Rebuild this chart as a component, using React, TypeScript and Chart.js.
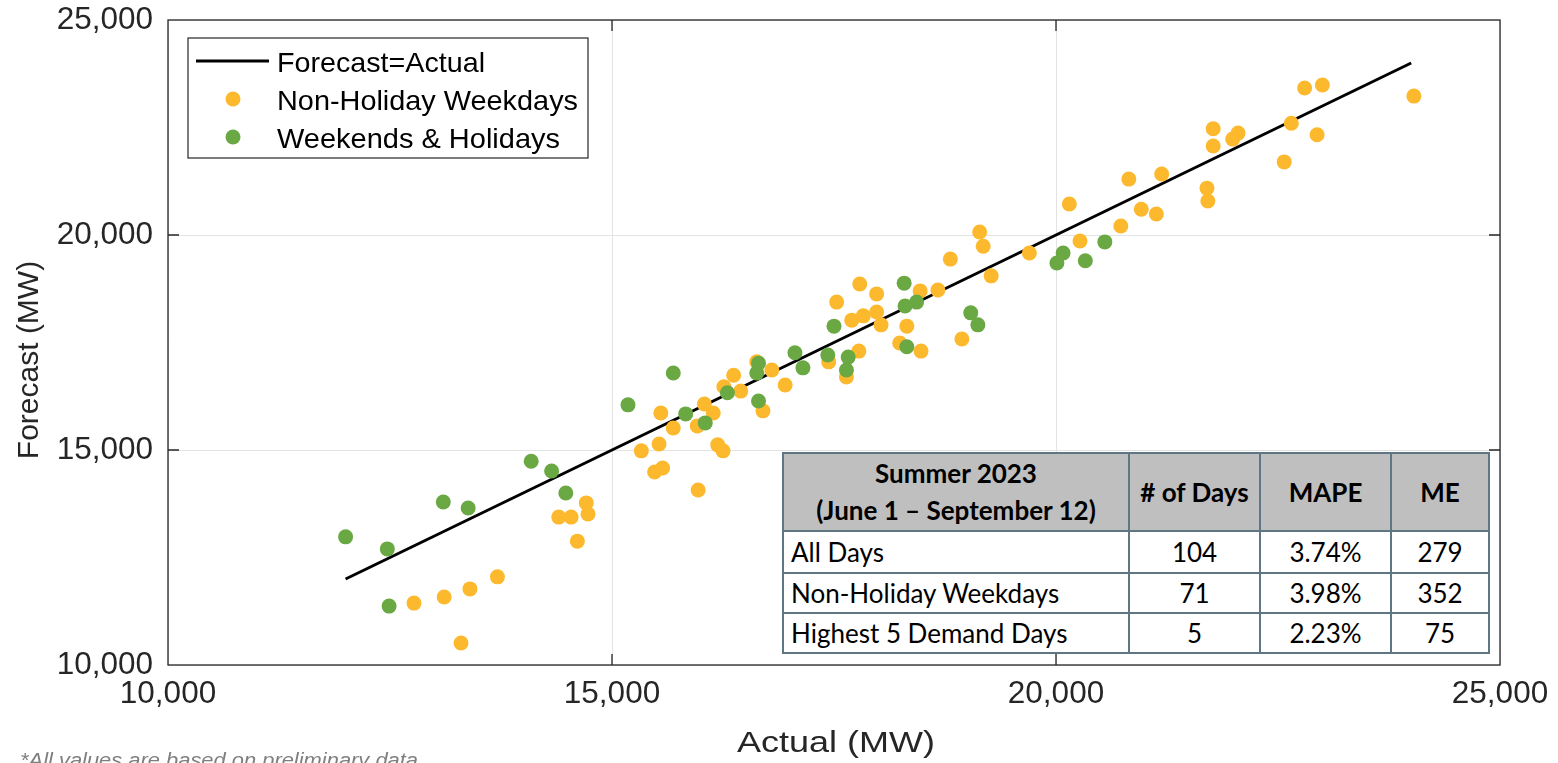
import React, { useEffect, useRef } from 'react';
import { Chart, registerables } from 'chart.js';

Chart.register(...registerables);

// ---------- data ----------
const AXIS_MIN = 10000;
const AXIS_MAX = 25000;
const AXIS_STEP = 5000;
const tickValues = [10000, 15000, 20000, 25000];

const lineActual = [12000, 24000];
const lineForecast = [12000, 24000];

const weekdayActual = [
  12770, 13110, 13400, 13710, 13300, 14710, 14400, 14540, 14730, 14610,
  15330, 15530, 15480, 15570, 15550, 15690, 15970, 16040, 16140, 15960,
  16190, 16250, 16260, 16370, 16450, 16630, 16800, 16700, 16950, 17440,
  17640, 17530, 17790, 17980, 17700, 17830, 17980, 18030, 18240, 17780,
  18320, 18480, 18470, 18670, 18810, 18940, 19140, 19180, 19270, 19700,
  20150, 20270, 20730, 20960, 21130, 20820, 21190, 21700, 21710, 21770,
  21770, 21990, 22050, 22570, 22650, 22800, 23000, 22940, 24030,
];
const weekdayForecast = [
  11440, 11580, 11770, 12050, 10510, 13770, 13440, 13440, 13510, 12880,
  14980, 15140, 14490, 14580, 15860, 15510, 14070, 16070, 15860, 15560,
  15120, 14980, 16470, 16740, 16370, 17050, 16860, 15910, 16510, 17050,
  16700, 18440, 18860, 18630, 18020, 18120, 18210, 17910, 17490, 17300,
  17880, 17300, 18700, 18720, 19440, 17580, 20070, 19740, 19050, 19580,
  20720, 19860, 20210, 20600, 20490, 21300, 21420, 21090, 20790, 22470,
  22070, 22230, 22370, 21700, 22600, 23420, 23490, 22330, 23230,
];

const weekendActual = [
  12000, 12470, 12490, 13100, 13380, 14090, 14320, 14480, 15180, 15690,
  15830, 16050, 16300, 16650, 16630, 16650, 17060, 17150, 17430, 17660,
  17640, 17500, 18290, 18300, 18430, 18320, 19040, 19120, 20010, 20080,
  20330, 20550,
];
const weekendForecast = [
  12980, 12700, 11370, 13790, 13650, 14740, 14510, 14000, 16050, 16790,
  15840, 15630, 16330, 17020, 16790, 16140, 17260, 16910, 17210, 17160,
  16860, 17880, 18880, 18350, 18440, 17400, 18190, 17910, 19350, 19580,
  19400, 19840,
];

const legendLabels = ['Forecast=Actual', 'Non-Holiday Weekdays', 'Weekends & Holidays'];
const xTitle = 'Actual (MW)';
const yTitle = 'Forecast (MW)';
const footnote = '*All values are based on preliminary data';

const tableTitle = ['Summer 2023', '(June 1 \u2013 September 12)'];
const tableColumns = ['# of Days', 'MAPE', 'ME'];
const tableRowLabels = ['All Days', 'Non-Holiday Weekdays', 'Highest 5 Demand Days'];
const tableDays = ['104', '71', '5'];
const tableMape = ['3.74%', '3.98%', '2.23%'];
const tableMe = ['279', '352', '75'];

// ---------- styles ----------
const YELLOW = 'rgb(253,185,46)';
const GREEN = 'rgb(106,168,68)';
const TEXT = '#262626';
const SANS = '"Liberation Sans", Arial, sans-serif';

const fmt = (v: number) => Number(v).toLocaleString('en-US');

function stretchedText(
  ctx: CanvasRenderingContext2D,
  text: string,
  x: number,
  y: number,
  font: string,
  targetWidth: number,
  align: CanvasTextAlign,
) {
  ctx.font = font;
  const w = ctx.measureText(text).width;
  const sx = targetWidth > 0 ? targetWidth / w : 1;
  ctx.save();
  ctx.translate(x, y);
  ctx.scale(sx, 1);
  ctx.textAlign = align;
  ctx.textBaseline = 'alphabetic';
  ctx.fillText(text, 0, 0);
  ctx.restore();
}

const overlayPlugin = {
  id: 'overlay',
  afterDraw(chart: any) {
    const ctx: CanvasRenderingContext2D = chart.ctx;
    const { left, right, top, bottom } = chart.chartArea;
    const xs = chart.scales.x;
    const ys = chart.scales.y;
    ctx.save();

    // frame
    ctx.strokeStyle = TEXT;
    ctx.lineWidth = 1.3;
    ctx.strokeRect(left, top, right - left, bottom - top);

    // inward ticks on all four sides
    const tl = 11;
    ctx.beginPath();
    tickValues.forEach((v) => {
      if (v === AXIS_MIN || v === AXIS_MAX) return;
      const px = xs.getPixelForValue(v);
      ctx.moveTo(px, bottom);
      ctx.lineTo(px, bottom - tl);
      ctx.moveTo(px, top);
      ctx.lineTo(px, top + tl);
      const py = ys.getPixelForValue(v);
      ctx.moveTo(left, py);
      ctx.lineTo(left + tl, py);
      ctx.moveTo(right, py);
      ctx.lineTo(right - tl, py);
    });
    ctx.stroke();

    // axis titles
    ctx.fillStyle = TEXT;
    stretchedText(ctx, xTitle, (left + right) / 2 + 2, 752, `30px ${SANS}`, 198, 'center');
    ctx.save();
    ctx.translate(38, 360);
    ctx.rotate(-Math.PI / 2);
    ctx.font = `30px ${SANS}`;
    ctx.textAlign = 'center';
    ctx.textBaseline = 'alphabetic';
    ctx.fillText(yTitle, 0, 0);
    ctx.restore();

    // legend
    const lx = 188, ly = 38, lw = 400, lh = 120;
    ctx.fillStyle = '#ffffff';
    ctx.fillRect(lx, ly, lw, lh);
    ctx.strokeStyle = TEXT;
    ctx.lineWidth = 1.2;
    ctx.strokeRect(lx, ly, lw, lh);
    ctx.strokeStyle = '#000000';
    ctx.lineWidth = 3;
    ctx.beginPath();
    ctx.moveTo(196, 61);
    ctx.lineTo(269, 61);
    ctx.stroke();
    ctx.fillStyle = YELLOW;
    ctx.beginPath();
    ctx.arc(233, 99, 7.5, 0, Math.PI * 2);
    ctx.fill();
    ctx.fillStyle = GREEN;
    ctx.beginPath();
    ctx.arc(233, 137, 7.5, 0, Math.PI * 2);
    ctx.fill();
    ctx.fillStyle = '#000000';
    const widths = [208, 301, 283];
    const baselines = [72, 110, 148];
    legendLabels.forEach((t, i) => {
      stretchedText(ctx, t, 277, baselines[i], `28px ${SANS}`, widths[i], 'left');
    });

    // footnote
    ctx.fillStyle = '#7f7f7f';
    stretchedText(ctx, footnote, 20, 767, `italic 20px ${SANS}`, 398, 'left');

    ctx.restore();
  },
};

function StatsTable() {
  const border = '2px solid #5f7784';
  const cell: React.CSSProperties = {
    border,
    padding: 0,
    textAlign: 'center',
    verticalAlign: 'middle',
    overflow: 'hidden',
    whiteSpace: 'nowrap',
  };
  const head: React.CSSProperties = { ...cell, fontWeight: 700, background: '#bfbfbf' };
  return (
    <table
      style={{
        position: 'absolute',
        left: 782,
        top: 452,
        width: 706,
        height: 200,
        borderCollapse: 'collapse',
        tableLayout: 'fixed',
        fontFamily: 'Lato, "Open Sans", sans-serif',
        fontSize: 26,
        color: '#000',
        background: '#fff',
      }}
    >
      <colgroup>
        <col style={{ width: 346 }} />
        <col style={{ width: 131 }} />
        <col style={{ width: 131 }} />
        <col style={{ width: 98 }} />
      </colgroup>
      <tbody>
        <tr style={{ height: 78 }}>
          <td style={{ ...head, lineHeight: '37px' }}>
            {tableTitle[0]}
            <br />
            {tableTitle[1]}
          </td>
          {tableColumns.map((c) => (
            <td key={c} style={head}>
              {c}
            </td>
          ))}
        </tr>
        {tableRowLabels.map((r, i) => (
          <tr key={r} style={{ height: i === 0 ? 42 : 40 }}>
            <td style={{ ...cell, textAlign: 'left', paddingLeft: 7 }}>{r}</td>
            <td style={cell}>{tableDays[i]}</td>
            <td style={cell}>{tableMape[i]}</td>
            <td style={cell}>{tableMe[i]}</td>
          </tr>
        ))}
      </tbody>
    </table>
  );
}

export default function App() {
  const canvasRef = useRef<HTMLCanvasElement | null>(null);

  useEffect(() => {
    if (!canvasRef.current) return;
    const tickFont = { family: SANS, size: 31.5 };
    const chart = new Chart(canvasRef.current, {
      type: 'scatter',
      data: {
        datasets: [
          {
            type: 'line',
            label: legendLabels[0],
            data: lineActual.map((x, i) => ({ x, y: lineForecast[i] })),
            borderColor: '#000000',
            borderWidth: 3,
            pointRadius: 0,
            showLine: true,
            fill: false,
            order: 3,
          } as any,
          {
            label: legendLabels[1],
            data: weekdayActual.map((x, i) => ({ x, y: weekdayForecast[i] })),
            backgroundColor: YELLOW,
            borderColor: YELLOW,
            pointRadius: 7.5,
            pointBorderWidth: 0,
            order: 2,
          },
          {
            label: legendLabels[2],
            data: weekendActual.map((x, i) => ({ x, y: weekendForecast[i] })),
            backgroundColor: GREEN,
            borderColor: GREEN,
            pointRadius: 7.5,
            pointBorderWidth: 0,
            order: 1,
          },
        ],
      },
      options: {
        responsive: true,
        maintainAspectRatio: false,
        animation: false,
        layout: { padding: { top: 20, right: 58, left: 0, bottom: 0 } },
        plugins: { legend: { display: false }, tooltip: { enabled: false } },
        scales: {
          x: {
            type: 'linear',
            min: AXIS_MIN,
            max: AXIS_MAX,
            ticks: {
              stepSize: AXIS_STEP,
              padding: 10,
              font: tickFont,
              color: TEXT,
              maxRotation: 0,
              callback: (v: any) => fmt(v),
            },
            grid: { color: '#e3e3e3', lineWidth: 1, drawTicks: false },
            border: { display: false },
            afterFit: (s: any) => {
              s.height = 98;
              s.paddingLeft = 0;
              s.paddingRight = 0;
            },
          },
          y: {
            type: 'linear',
            min: AXIS_MIN,
            max: AXIS_MAX,
            ticks: {
              stepSize: AXIS_STEP,
              padding: 15,
              font: tickFont,
              color: TEXT,
              callback: (v: any) => fmt(v),
            },
            grid: { color: '#e3e3e3', lineWidth: 1, drawTicks: false },
            border: { display: false },
            afterFit: (s: any) => {
              s.width = 168;
              s.paddingTop = 0;
              s.paddingBottom = 0;
            },
          },
        },
      },
      plugins: [overlayPlugin],
    });
    return () => chart.destroy();
  }, []);

  return (
    <div style={{ position: 'fixed', left: 0, top: 0, width: 1558, height: 763, background: '#fff', overflow: 'hidden' }}>
      <canvas ref={canvasRef} style={{ display: 'block' }} />
      <StatsTable />
    </div>
  );
}
